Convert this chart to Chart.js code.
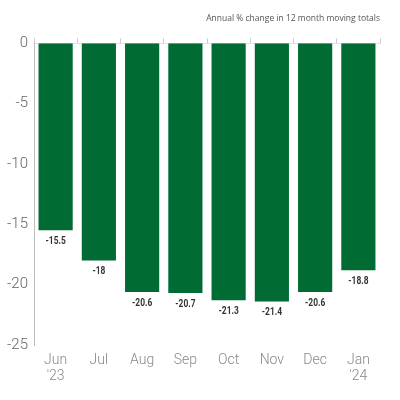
<!DOCTYPE html>
<html>
<head>
<meta charset="utf-8">
<script src="https://cdn.jsdelivr.net/npm/chart.js@4"></script>
<style>
  html, body { margin: 0; padding: 0; background: #fff; }
  #wrap { width: 400px; height: 400px; }
</style>
</head>
<body>
<div id="wrap"><canvas id="chart-change"></canvas></div>
<script>
'use strict';

const months = [['Jun', "'23"], 'Jul', 'Aug', 'Sep', 'Oct', 'Nov', 'Dec', ['Jan', "'24"]];
const changes = [-15.5, -18, -20.6, -20.7, -21.3, -21.4, -20.6, -18.8];
const yTicks = [0, -5, -10, -15, -20, -25];

const green = '#006b33';

// value labels under the end of each bar (squeezed to look condensed)
const barLabels = {
    id: 'barLabels',
    afterDatasetsDraw(chart) {
        const ctx = chart.ctx;
        const meta = chart.getDatasetMeta(0);
        ctx.save();
        ctx.font = 'bold 10.5px Roboto, sans-serif';
        ctx.fillStyle = '#333';
        ctx.textAlign = 'center';
        ctx.textBaseline = 'middle';
        meta.data.forEach((bar, i) => {
            ctx.save();
            ctx.translate(bar.x, bar.y + 11);
            ctx.scale(0.8, 1);
            ctx.fillText(String(changes[i]), 0, 0);
            ctx.restore();
        });
        ctx.restore();
    }
};

const canvas = document.getElementById('chart-change');

new Chart(canvas.getContext('2d'), {
    type: 'bar',
    data: {
        labels: months,
        datasets: [{
            data: changes,
            backgroundColor: green,
            borderWidth: 0,
            barPercentage: 0.79,
            categoryPercentage: 1
        }]
    },
    options: {
        responsive: true,
        maintainAspectRatio: false,
        animation: false,
        layout: {padding: {left: 0, right: 20, bottom: 15, top: 0}},
        plugins: {
            legend: {display: false},
            tooltip: {enabled: false},
            title: {
                display: true,
                text: 'Annual % change in 12 month moving totals',
                align: 'end',
                color: '#555',
                font: {family: '"Open Sans", sans-serif', size: 8.5, weight: 'normal'},
                padding: {top: 13, bottom: 15}
            }
        },
        scales: {
            x: {
                position: 'bottom',
                afterFit(axis) { axis.height = 40; },
                border: {display: false},
                grid: {display: false},
                ticks: {
                    color: '#888',
                    padding: -1,
                    font: {family: 'Roboto, sans-serif', size: 14, weight: 300, lineHeight: 1.15}
                }
            },
            xTop: {
                type: 'category',
                position: 'top',
                labels: months,
                offset: true,
                border: {display: true, color: '#e2e2e2'},
                grid: {display: true, drawOnChartArea: false, tickLength: 5, color: '#ccc'},
                ticks: {display: false}
            },
            y: {
                min: -25,
                max: 0,
                afterFit(axis) { axis.width = 34; },
                afterBuildTicks(axis) { axis.ticks = yTicks.map(v => ({value: v})); },
                border: {display: true, color: '#bbb'},
                grid: {display: false, drawTicks: false},
                ticks: {
                    color: '#666',
                    padding: 6,
                    font: {family: 'Roboto, sans-serif', size: 15, weight: 300}
                }
            }
        }
    },
    plugins: [barLabels]
});
</script>
</body>
</html>
